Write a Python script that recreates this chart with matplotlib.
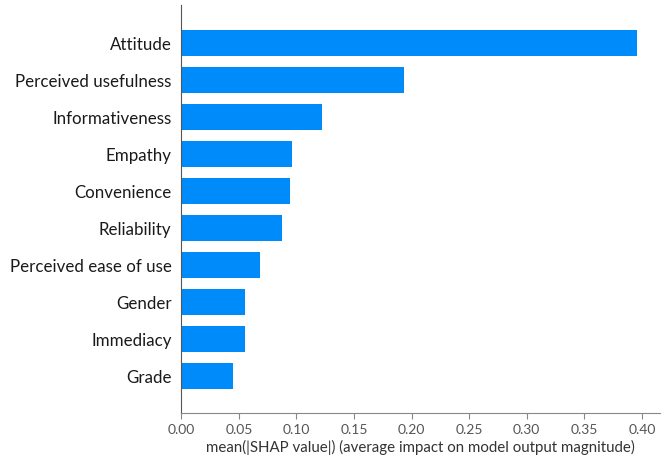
import matplotlib
matplotlib.use("Agg")
import matplotlib.pyplot as plt
import numpy as np

features = ["Attitude", "Perceived usefulness", "Informativeness", "Empathy",
            "Convenience", "Reliability", "Perceived ease of use", "Gender",
            "Immediacy", "Grade"]
values = [0.396, 0.193, 0.122, 0.0964, 0.0946, 0.0877, 0.0686, 0.0556, 0.0556, 0.0452]
xticks = [0.0, 0.05, 0.10, 0.15, 0.20, 0.25, 0.30, 0.35, 0.40]

plt.rcParams['font.family'] = ['Lato', 'DejaVu Sans']

fig = plt.figure(figsize=(6.69, 4.57), dpi=100)
ax = fig.add_axes([0.271, 0.096, 0.716, 0.893])

n = len(features)
ypos = np.arange(n)[::-1]
ax.barh(ypos, values, height=0.7, color="#008bfb", align="center")

ax.set_yticks(ypos)
ax.set_yticklabels(features, fontsize=12.2, color="#1a1a1a")
ax.set_xticks(xticks)
ax.set_xticklabels([f"{t:.2f}" for t in xticks], fontsize=10, color="#555555")
ax.set_xlabel("mean(|SHAP value|) (average impact on model output magnitude)",
              fontsize=10.8, color="#333333", labelpad=3)

ax.set_ylim(-1, n - 1 + 1.03)
ax.set_xlim(0, 0.416)

ax.spines['top'].set_visible(False)
ax.spines['right'].set_visible(False)
ax.spines['left'].set_color("#555555")
ax.spines['bottom'].set_color("#888888")
ax.tick_params(axis='y', length=0, pad=7)
ax.tick_params(axis='x', color="#888888", length=4)

fig.savefig("out.png", dpi=100)
